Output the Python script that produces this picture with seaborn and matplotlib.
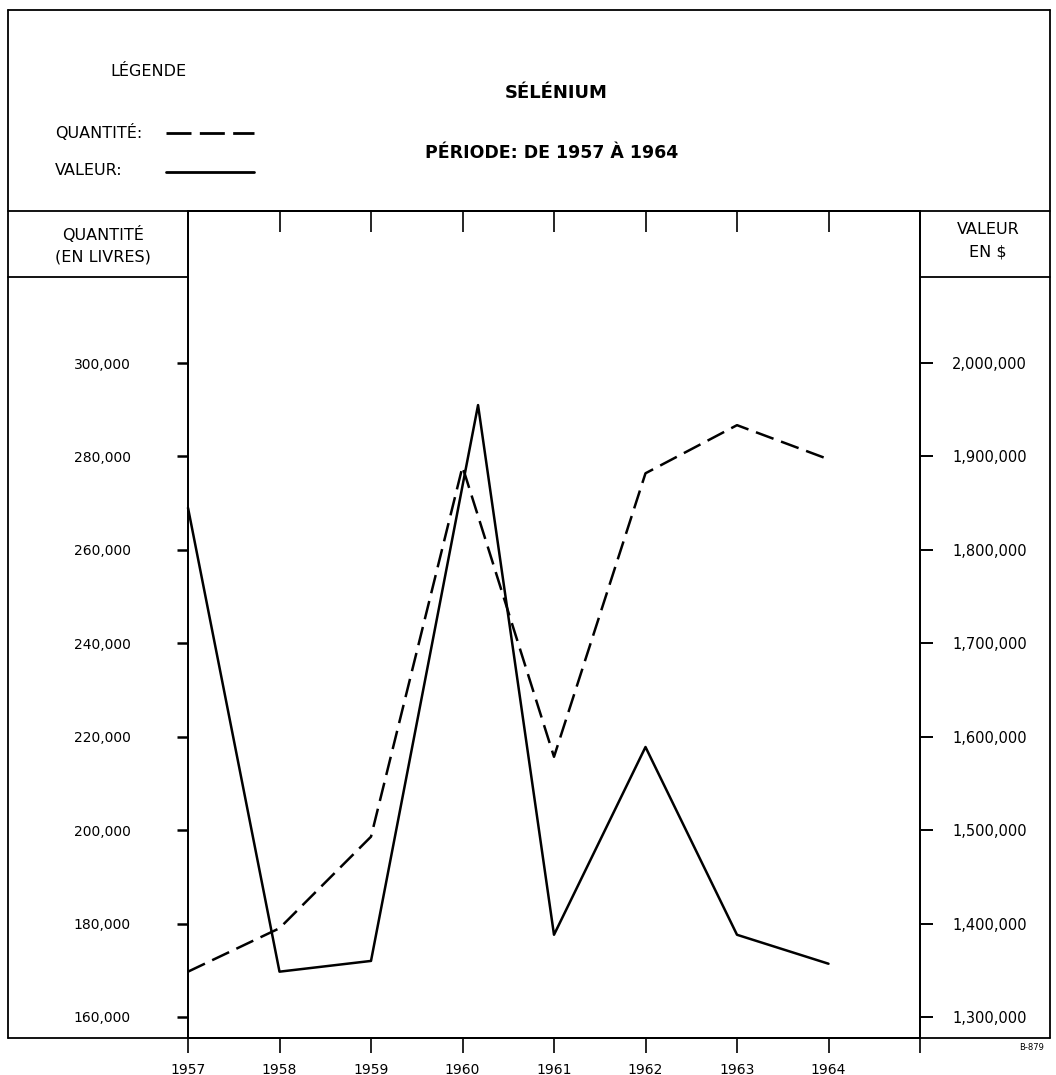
import pandas as pd
import seaborn as sns
import matplotlib.pyplot as plt
from matplotlib.lines import Line2D
from matplotlib.ticker import FuncFormatter

# Data
years = [1957, 1958, 1959, 1960, 1961, 1962, 1963, 1964]
quantite = [169700, 179000, 198600, 277800, 215700, 276400, 286700, 279400]
valeur_years = [1957, 1958, 1959, 1960.17, 1961, 1962, 1963, 1964]
valeur = [1845000, 1348500, 1360000, 1955000, 1388000, 1589000, 1388000, 1357000]

q_ticks = [160000, 180000, 200000, 220000, 240000, 260000, 280000, 300000]
v_ticks = [1300000, 1400000, 1500000, 1600000, 1700000, 1800000, 1900000, 2000000]

df_q = pd.DataFrame({'annee': years, 'quantite': quantite})
df_v = pd.DataFrame({'annee': valeur_years, 'valeur': valeur})

sns.set_style("ticks")
plt.rcParams['font.family'] = ['DejaVu Sans']
plt.rcParams['text.color'] = 'black'
plt.rcParams['axes.edgecolor'] = 'black'
plt.rcParams['xtick.color'] = 'black'
plt.rcParams['ytick.color'] = 'black'

W, H = 1056, 1075
fig = plt.figure(figsize=(W / 100, H / 100), dpi=100)

def fx(px):
    return px / W

def fy(py):
    return 1 - py / H

# plot area in pixels
left, right, top, bottom = 188, 920, 211, 1038
ax = fig.add_axes([fx(left), fy(bottom), fx(right) - fx(left), fy(top) - fy(bottom)])
ax2 = ax.twinx()

ylo, yhi = 155500, 332550
ax.set_xlim(1957, 1965)
ax.set_ylim(ylo, yhi)
# right axis: 160,000 <-> 1,300,000 and 20,000 lb <-> $100,000
ax2.set_ylim(1300000 + (ylo - 160000) * 5, 1300000 + (yhi - 160000) * 5)

sns.lineplot(data=df_q, x='annee', y='quantite', ax=ax, color='black',
             linewidth=1.8, linestyle=(0, (7.5, 3.2)), clip_on=False)
sns.lineplot(data=df_v, x='annee', y='valeur', ax=ax2, color='black',
             linewidth=1.8, clip_on=False)

comma = FuncFormatter(lambda v, p: f"{int(v):,}")

ax.set_xticks(years + [1965])
ax.set_xticklabels([str(y) for y in years] + [''])
ax.set_yticks(q_ticks)
ax.yaxis.set_major_formatter(comma)
ax2.set_yticks(v_ticks)
ax2.yaxis.set_major_formatter(comma)

ax.tick_params(axis='x', direction='out', length=11, width=1.2, pad=7, labelsize=10)
ax.tick_params(axis='y', direction='out', length=8, width=1.8, pad=33, labelsize=10)
ax2.tick_params(axis='y', direction='out', length=9, width=1.4, pad=14, labelsize=10.5)
for lab in ax2.get_yticklabels():
    lab.set_horizontalalignment('left')

ax.set_xlabel('')
ax.set_ylabel('')
ax2.set_ylabel('')

for a in (ax, ax2):
    for s in a.spines.values():
        s.set_linewidth(1.3)
        s.set_color('black')

# inward ticks along the top edge
top_ax = ax.secondary_xaxis('top')
top_ax.set_xticks(years[1:])
top_ax.tick_params(direction='in', length=15, width=1.2, labeltop=False)
top_ax.spines['top'].set_linewidth(1.3)

# frame and boxes
def hline(y, x0, x1, lw=1.3, **kw):
    fig.add_artist(Line2D([fx(x0), fx(x1)], [fy(y), fy(y)], color='black', lw=lw, **kw))

def vline(x, y0, y1, lw=1.3):
    fig.add_artist(Line2D([fx(x), fx(x)], [fy(y0), fy(y1)], color='black', lw=lw))

hline(10, 8, 1050)
hline(211, 8, 1050)
hline(1038, 8, 1050)
hline(277, 8, left)
hline(277, right, 1050)
vline(8, 10, 1038)
vline(1050, 10, 1038)

# header texts
fig.text(fx(148), fy(71), 'LÉGENDE', ha='center', va='center', fontsize=11.5)
fig.text(fx(556), fy(93), 'SÉLÉNIUM', ha='center', va='center', fontsize=13, fontweight='bold')
fig.text(fx(552), fy(153), 'PÉRIODE: DE 1957 À 1964', ha='center', va='center',
         fontsize=12.5, fontweight='bold')
fig.text(fx(55), fy(133), 'QUANTITÉ:', ha='left', va='center', fontsize=11.5)
fig.text(fx(55), fy(171), 'VALEUR:', ha='left', va='center', fontsize=11.5)
hline(133, 166, 254, lw=2, linestyle=(0, (9, 3)))
hline(172, 166, 254, lw=2)

# axis boxes
fig.text(fx(103), fy(235), 'QUANTITÉ', ha='center', va='center', fontsize=11.5)
fig.text(fx(103), fy(257), '(EN LIVRES)', ha='center', va='center', fontsize=11.5)
fig.text(fx(988), fy(230), 'VALEUR', ha='center', va='center', fontsize=11.5)
fig.text(fx(988), fy(252), 'EN $', ha='center', va='center', fontsize=11.5)

fig.text(fx(1032), fy(1048), 'B-879', ha='center', va='center', fontsize=6)

plt.savefig('out.png', dpi=100)
